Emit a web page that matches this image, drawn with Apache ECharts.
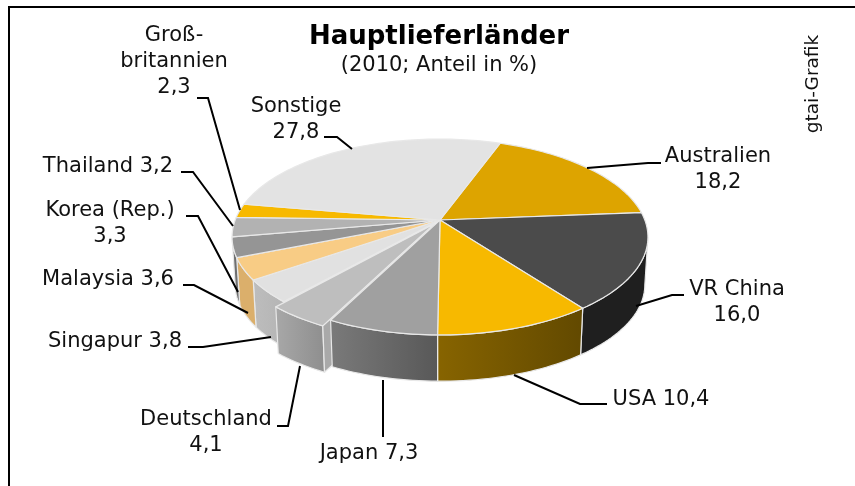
<!DOCTYPE html>
<html lang="de">
<head>
<meta charset="utf-8">
<title>Hauptlieferländer</title>
<script src="https://cdn.jsdelivr.net/npm/echarts@6/dist/echarts.min.js"></script>
<style>
  html, body { margin: 0; padding: 0; background: #fff; }
  #chart { width: 855px; height: 486px; }
</style>
</head>
<body>
<div id="chart"></div>
<script>
  const countries = ["Australien", "VR China", "USA", "Japan", "Deutschland", "Singapur", "Malaysia", "Korea (Rep.)", "Thailand", "Groß-britannien", "Sonstige"];
  const shares = [18.2, 16.0, 10.4, 7.3, 4.1, 3.8, 3.6, 3.3, 3.2, 2.3, 27.8];
  const pulledOut = [0, 0, 0, 0, 0.05, 0, 0, 0, 0, 0, 0];

  const topColors = ["#DDA400", "#4B4B4B", "#F7B900", "#A0A0A0", "#BEBEBE", "#E1E1E1", "#F8CC85", "#959595", "#B2B2B2", "#F7B900", "#E3E3E3"];
  const wallColors = [
    ["#8A6700", "#8A6700"], ["#1F1F1F", "#1F1F1F"], ["#876400", "#624900"], ["#7A7A7A", "#585858"], ["#A8A8A8", "#8E8E8E"],
    ["#BDBDBD", "#B4B4B4"], ["#DBAF6B", "#DBAF6B"], ["#707070", "#707070"], ["#808080", "#808080"], ["#808080", "#808080"], ["#999", "#999"]
  ];

  // pie geometry: tilted disc with a little perspective, near rim is bigger
  const CX = 440, CY = 220, RX = 204.8, RY = 95, PERSP = 0.1735;
  const DEPTH = 48, BOTTOM_SCALE = 0.985, START_DEG = 20;
  const WALL_FROM = 100, WALL_TO = 260; // part of the rim facing the viewer

  // leader lines and label boxes, in page pixels, same order as countries
  const leaders = [
    [[587, 168], [648, 163], [661, 163]],
    [[636, 306], [672, 295], [684, 295]],
    [[514, 375], [580, 404], [607, 404]],
    [[383, 380], [383, 437]],
    [[300, 366], [288, 426], [277, 426]],
    [[271, 337], [203, 347], [188, 347]],
    [[248, 313], [194, 285], [183, 285]],
    [[238, 292], [198, 216], [186, 216]],
    [[233, 226], [193, 172], [181, 172]],
    [[240, 210], [208, 98], [197, 98]],
    [[352, 149], [337, 137], [324, 137]]
  ];
  const labelSpots = [
    { x: 718, y: 157, lines: ["Australien", 0] },
    { x: 737, y: 290, lines: ["VR China", 0] },
    { x: 661, y: 400, lines: ["USA #"] },
    { x: 369, y: 454, lines: ["Japan #"] },
    { x: 206, y: 420, lines: ["Deutschland", 0] },
    { x: 115, y: 342, lines: ["Singapur #"] },
    { x: 108, y: 280, lines: ["Malaysia #"] },
    { x: 110, y: 211, lines: ["Korea (Rep.)", 0] },
    { x: 108, y: 167, lines: ["Thailand #"] },
    { x: 174, y: 36, lines: ["Groß-", "britannien", 0] },
    { x: 296, y: 107, lines: ["Sonstige", 0] }
  ];
  const LINE_H = 26;

  const fmt = (v) => v.toFixed(1).replace(".", ",");
  const rad = (d) => d * Math.PI / 180;

  // disc coords (u right, v towards viewer) to page pixels
  function project(u, v, bottom) {
    const w = 1 - PERSP * v;
    const s = bottom ? BOTTOM_SCALE : 1;
    return [CX + s * RX * u / w, CY + s * RY * v / w + (bottom ? DEPTH : 0)];
  }
  function rimPoint(deg, off, bottom) {
    return project(Math.sin(rad(deg)) + off[0], -Math.cos(rad(deg)) + off[1], bottom);
  }
  function arc(a1, a2, off, bottom) {
    const pts = [], n = Math.max(2, Math.ceil((a2 - a1) / 1.5));
    for (let i = 0; i <= n; i++) pts.push(rimPoint(a1 + (a2 - a1) * i / n, off, bottom));
    return pts;
  }
  function sideFill(c) {
    return new echarts.graphic.LinearGradient(0, 0, 1, 0, [{ offset: 0, color: c[0] }, { offset: 1, color: c[1] }]);
  }

  const total = shares.reduce((a, b) => a + b, 0);
  const startAngles = [];
  shares.reduce((acc, v, i) => { startAngles[i] = acc; return acc + v / total * 360; }, START_DEG);

  function renderSlice(params, api) {
    const i = params.dataIndex;
    const a1 = startAngles[i], a2 = a1 + api.value(0) / total * 360;
    const mid = rad((a1 + a2) / 2), d = pulledOut[i];
    const off = [Math.sin(mid) * d, -Math.cos(mid) * d];
    const kids = [];
    // Japan has to sit on top of the cut face of the pulled out slice
    const base = d ? 3 : (countries[i] === "Japan" ? 6 : 1);
    const edge = { stroke: "#E8E8E8", lineWidth: 1.2, lineJoin: "round" };

    const w1 = Math.max(a1, WALL_FROM), w2 = Math.min(a2, WALL_TO);
    if (w1 < w2) {
      const pts = arc(w1, w2, off, false).concat(arc(w1, w2, off, true).reverse());
      kids.push({ type: "polygon", z2: base, shape: { points: pts }, style: Object.assign({ fill: sideFill(wallColors[i]) }, edge) });
    }
    if (d) {
      const cut = [rimPoint(a1, off, false), project(off[0], off[1], false), project(off[0], off[1], true), rimPoint(a1, off, true)];
      kids.push({ type: "polygon", z2: base, shape: { points: cut }, style: Object.assign({ fill: "#A9A9A9" }, edge) });
    }
    const top = [project(off[0], off[1], false)].concat(arc(a1, a2, off, false));
    kids.push({ type: "polygon", z2: base + 1, shape: { points: top }, style: Object.assign({ fill: topColors[i] }, edge) });
    return { type: "group", children: kids };
  }

  const txt = (x, y, text, extra) => ({
    type: "text", x, y, z: 20, silent: true,
    style: Object.assign({ text, fill: "#111", font: "21px 'DejaVu Sans'", align: "center", verticalAlign: "middle" }, extra || {})
  });

  const annotations = [
    { type: "line", z: 20, shape: { x1: 9, y1: 7, x2: 855, y2: 7 }, style: { stroke: "#000", lineWidth: 2 } },
    { type: "line", z: 20, shape: { x1: 9, y1: 6, x2: 9, y2: 486 }, style: { stroke: "#000", lineWidth: 2 } },
    txt(813, 84, "gtai-Grafik", { font: "18.5px 'DejaVu Sans'" })
  ];
  annotations[2].rotation = Math.PI / 2;

  leaders.forEach((pts) => {
    annotations.push({ type: "polyline", z: 19, silent: true, shape: { points: pts }, style: { stroke: "#000", lineWidth: 2, fill: null } });
  });
  labelSpots.forEach((spot, i) => {
    spot.lines.forEach((line, k) => {
      const s = line === 0 ? fmt(shares[i]) : line.replace("#", fmt(shares[i]));
      annotations.push(txt(spot.x, spot.y + k * LINE_H, s));
    });
  });

  const chart = echarts.init(document.getElementById("chart"), null, { renderer: "canvas" });
  chart.setOption({
    animation: false,
    backgroundColor: "#fff",
    title: {
      text: "Hauptlieferländer",
      subtext: "(2010; Anteil in %)",
      left: 439, top: 24, textAlign: "center", itemGap: 5, padding: 0,
      textStyle: { fontFamily: "DejaVu Sans", fontWeight: "bold", fontSize: 26, color: "#000" },
      subtextStyle: { fontFamily: "DejaVu Sans", fontSize: 21, color: "#111" }
    },
    graphic: annotations,
    series: [{
      type: "custom",
      coordinateSystem: "none",
      silent: true,
      clip: false,
      data: shares.map((v, i) => ({ name: countries[i], value: [v] })),
      renderItem: renderSlice
    }]
  });
</script>
</body>
</html>
